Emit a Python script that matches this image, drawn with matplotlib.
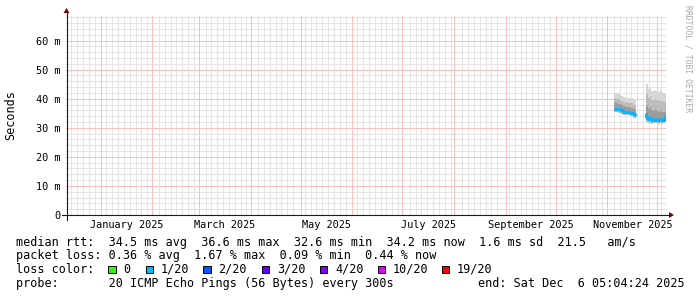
import numpy as np
import matplotlib
matplotlib.use('Agg')
import matplotlib.pyplot as plt
import matplotlib.dates as mdates
from matplotlib.patches import Polygon, Rectangle
from matplotlib.lines import Line2D

W, H = 697, 297
MONO = 'DejaVu Sans Mono'

# time range: last 360 days up to the end stamp
end_time = np.datetime64('2025-12-06T05:04:24')
start_time = end_time - np.timedelta64(360, 'D')

# smoke / median data (ms), daily
s1_days = np.arange(np.datetime64('2025-11-05'), np.datetime64('2025-11-19'))
s1_max = [41.9, 42.1, 41.8, 41.6, 41.4, 41.0, 40.5, 40.3, 40.4, 40.2, 40.1, 40.3, 39.9, 39.6]
s1_p90 = [40.2, 40.4, 40.0, 39.8, 39.6, 39.3, 38.9, 38.7, 38.8, 38.6, 38.4, 38.5, 38.0, 37.6]
s1_p75 = [38.6, 38.8, 38.5, 38.3, 38.1, 37.8, 37.4, 37.2, 37.3, 37.1, 36.9, 36.9, 36.4, 36.0]
s1_med = [36.4, 36.6, 36.4, 36.3, 36.2, 36.0, 35.6, 35.5, 35.6, 35.4, 35.2, 35.0, 34.6, 34.4]
s1_p25 = [35.9, 36.1, 35.9, 35.8, 35.7, 35.5, 35.1, 35.0, 35.1, 34.9, 34.7, 34.5, 34.1, 33.9]
s1_min = [35.3, 35.6, 35.4, 35.2, 35.1, 34.9, 34.5, 34.4, 34.5, 34.3, 34.1, 33.9, 33.5, 33.3]

s2_days = np.arange(np.datetime64('2025-11-24'), np.datetime64('2025-12-07'))
s2_max = [53.9, 45.0, 43.5, 44.0, 42.8, 42.5, 43.0, 42.6, 42.2, 42.9, 42.4, 42.0, 41.8]
s2_p90 = [46.0, 41.5, 40.2, 40.8, 39.6, 39.4, 39.9, 39.5, 39.2, 39.6, 39.1, 38.8, 38.7]
s2_p75 = [39.5, 37.5, 36.5, 37.0, 36.0, 35.8, 36.3, 35.9, 35.6, 36.0, 35.6, 35.4, 35.8]
s2_med = [35.1, 33.6, 32.9, 33.2, 32.6, 32.7, 33.0, 32.8, 32.6, 32.9, 32.7, 32.8, 34.2]
s2_p25 = [34.2, 32.8, 32.2, 32.5, 32.0, 32.1, 32.3, 32.1, 32.0, 32.2, 32.0, 32.1, 33.4]
s2_min = [33.0, 31.9, 31.5, 31.8, 31.4, 31.5, 31.7, 31.5, 31.4, 31.6, 31.4, 31.5, 32.6]

y_major = [10, 20, 30, 40, 50, 60]
y_labels = ['0', '10 m', '20 m', '30 m', '40 m', '50 m', '60 m']
month_labels = ['January 2025', 'March 2025', 'May 2025', 'July 2025',
                'September 2025', 'November 2025']
label_months = ['2025-01', '2025-03', '2025-05', '2025-07', '2025-09', '2025-11']

legend_lines = [
    'median rtt:  34.5 ms avg  36.6 ms max  32.6 ms min  34.2 ms now  1.6 ms sd  21.5   am/s',
    'packet loss: 0.36 % avg  1.67 % max  0.09 % min  0.44 % now',
]
loss_names = ['0', '1/20', '2/20', '3/20', '4/20', '10/20', '19/20']
loss_colors = ['#26ff00', '#00b8ff', '#0059ff', '#5e00ff', '#7e00ff', '#dd00ff', '#ff0000']
probe_text = 'probe:       20 ICMP Echo Pings (56 Bytes) every 300s'
end_text = 'end: Sat Dec  6 05:04:24 2025'


def fx(x):
    return x / W


def fy(y):
    return 1 - y / H


def num(d):
    return mdates.date2num(d.astype('datetime64[s]').astype(object))


fig = plt.figure(figsize=(W / 100, H / 100), dpi=100)
ax = fig.add_axes([fx(66), fy(215), 600 / W, 200 / H])
x0, x1 = num(start_time), num(end_time)
ax.set_xlim(x0, x1)
ax.set_ylim(0, 68.8)
for s in ax.spines.values():
    s.set_visible(False)
ax.set_xticks([])
ax.set_yticks([])

grid_kw = dict(lw=0.72, ls=(0, (1, 1)), antialiased=False)
months = np.arange(np.datetime64('2025-01'), np.datetime64('2026-01'))
month_x = [num(m.astype('datetime64[D]')) for m in months]
# minor vertical grid (skip the ones sitting next to a month line)
jan1 = num(np.datetime64('2025-01-01'))
t = jan1 - 3.5 * 6
while t < x1:
    if t > x0 and min(abs(t - mx) for mx in month_x) > 1.5:
        ax.axvline(t, color='#e4e4e4', zorder=0, **grid_kw)
    t += 3.5
# minor horizontal grid
for v in range(2, 69, 2):
    if v % 10:
        ax.axhline(v, color='#e4e4e4', zorder=0, **grid_kw)
# major grid
for mx in month_x:
    ax.axvline(mx, color='#f6c2c2', zorder=1, **grid_kw)
for v in y_major:
    ax.axhline(v, color='#f6c2c2', zorder=1, **grid_kw)

# smoke
for days, lo, hi, c in [(s1_days, s1_min, s1_max, '#d6d6d6'), (s1_days, s1_min, s1_p90, '#bcbcbc'),
                        (s1_days, s1_p25, s1_p75, '#9c9c9c'),
                        (s2_days, s2_min, s2_max, '#d6d6d6'), (s2_days, s2_min, s2_p90, '#bcbcbc'),
                        (s2_days, s2_p25, s2_p75, '#9c9c9c')]:
    xs = [num(d) for d in days]
    ax.fill_between(xs, lo, hi, step='mid', color=c, lw=0, zorder=2)
for days, med in [(s1_days, s1_med), (s2_days, s2_med)]:
    xs = [num(d) for d in days]
    ax.plot(xs, med, drawstyle='steps-mid', color='#00b8ff', lw=2.0, zorder=3,
            solid_capstyle='butt')

# y tick labels
for v, lab in zip([0] + y_major, y_labels):
    fig.text(fx(60), fy(215 - v * 200 / 68.8), lab, ha='right', va='center_baseline',
             family=MONO, fontsize=7.4)
# x labels centred in month
for m, lab in zip(label_months, month_labels):
    a = np.datetime64(m)
    c = (num(a.astype('datetime64[D]')) + num((a + 1).astype('datetime64[D]'))) / 2
    px = 66 + (c - x0) / (x1 - x0) * 600
    fig.text(fx(px), fy(228.3), lab, ha='center', va='baseline', family=MONO, fontsize=7.4)

# axes lines and arrows
fig.add_artist(Line2D([fx(66.5), fx(66.5)], [fy(220), fy(12)], color='#1a1a1a', lw=0.8))
fig.add_artist(Line2D([fx(61.5), fx(670)], [fy(215), fy(215)], color='#1a1a1a', lw=0.8))
fig.add_artist(Polygon([[fx(63.5), fy(13)], [fx(69.5), fy(13)], [fx(66.5), fy(8)]],
                       closed=True, color='#800000', lw=0))
fig.add_artist(Polygon([[fx(669), fy(212)], [fx(669), fy(218)], [fx(674), fy(215)]],
                       closed=True, color='#800000', lw=0))

fig.text(fx(11), fy(115), 'Seconds', rotation=90, ha='center', va='center',
         family=MONO, fontsize=8.5)
fig.text(fx(688), fy(59), 'RRDTOOL / TOBI OETIKER', rotation=270, ha='center', va='center',
         family=MONO, fontsize=5.8, color='#a8a8a8')

# legend
fig.text(fx(16.5), fy(245.7), legend_lines[0], family=MONO, fontsize=8.5, va='baseline')
fig.text(fx(16.5), fy(259.3), legend_lines[1], family=MONO, fontsize=8.5, va='baseline')
fig.text(fx(16.5), fy(273), 'loss color:', family=MONO, fontsize=8.5, va='baseline')
box_x = [108.3, 145.7, 203.3, 261.7, 320, 377.7, 441.7]
for bx, name, col in zip(box_x, loss_names, loss_colors):
    fig.add_artist(Rectangle((fx(bx), fy(273.3)), 7.3 / W, 7.3 / H, facecolor=col,
                             edgecolor='black', lw=0.7))
    fig.text(fx(bx + 15.3), fy(273), name, family=MONO, fontsize=8.5, va='baseline')
fig.text(fx(16.5), fy(286.7), probe_text, family=MONO, fontsize=8.5, va='baseline')
fig.text(fx(478), fy(286.7), end_text, family=MONO, fontsize=8.5, va='baseline')

fig.savefig('out.png', dpi=100, facecolor='white')
